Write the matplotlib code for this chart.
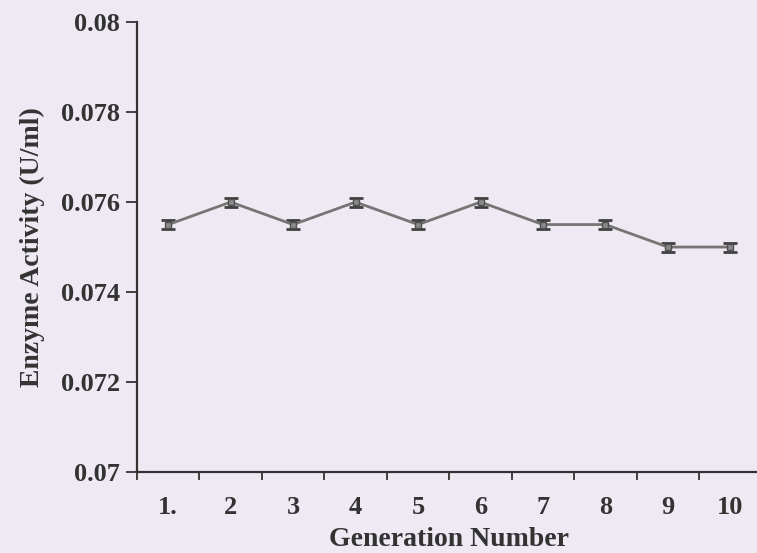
import matplotlib.pyplot as plt
import numpy as np

# generation number vs enzyme activity
generations = [1, 2, 3, 4, 5, 6, 7, 8, 9, 10]
activity = [0.0755, 0.076, 0.0755, 0.076, 0.0755, 0.076, 0.0755, 0.0755, 0.075, 0.075]
errors = [0.0001] * 10
yticks = [0.07, 0.072, 0.074, 0.076, 0.078, 0.08]
ytick_labels = ['0.07', '0.072', '0.074', '0.076', '0.078', '0.08']

bg = '#efe9f4'
plt.rcParams['font.family'] = ['Liberation Serif', 'DejaVu Serif']
plt.rcParams['font.weight'] = 'bold'

fig = plt.figure(figsize=(7.57, 5.53), dpi=100, facecolor=bg)
ax = fig.add_axes([0.181, 0.1465, 0.825, 0.8135], facecolor=bg)

ax.errorbar(generations, activity, yerr=errors, color='#757575', lw=2,
            marker='s', ms=5, mfc='#8a8a8a', mec='#505050',
            ecolor='#404040', elinewidth=1.5, capsize=5, capthick=2)

ax.set_xlim(0.5, 10.5)
ax.set_ylim(0.07, 0.08)

# ticks between categories, labels at category centres
ax.set_xticks(np.arange(0.5, 10.0, 1.0))
ax.set_xticklabels([])
ax.set_xticks(generations, minor=True)
ax.set_xticklabels(['1.', '2', '3', '4', '5', '6', '7', '8', '9', '10'], minor=True)
ax.tick_params(axis='x', which='major', direction='out', length=6, width=1.3, color='#333333')
ax.tick_params(axis='x', which='minor', length=0, pad=17, labelsize=19, labelcolor='#333333')

ax.set_yticks(yticks)
ax.set_yticklabels(ytick_labels)
ax.tick_params(axis='y', direction='out', length=8, width=1.3, color='#333333',
               labelsize=19, labelcolor='#333333', pad=4)

for s in ['top', 'right']:
    ax.spines[s].set_visible(False)
for s in ['left', 'bottom']:
    ax.spines[s].set_linewidth(1.6)
    ax.spines[s].set_color('#333333')

ax.set_xlabel('Generation Number', fontsize=20, fontweight='bold', color='#333333', labelpad=6)
ax.set_ylabel('Enzyme Activity (U/ml)', fontsize=20, fontweight='bold', color='#333333', labelpad=12)

fig.savefig('out.png', dpi=100, facecolor=bg)
